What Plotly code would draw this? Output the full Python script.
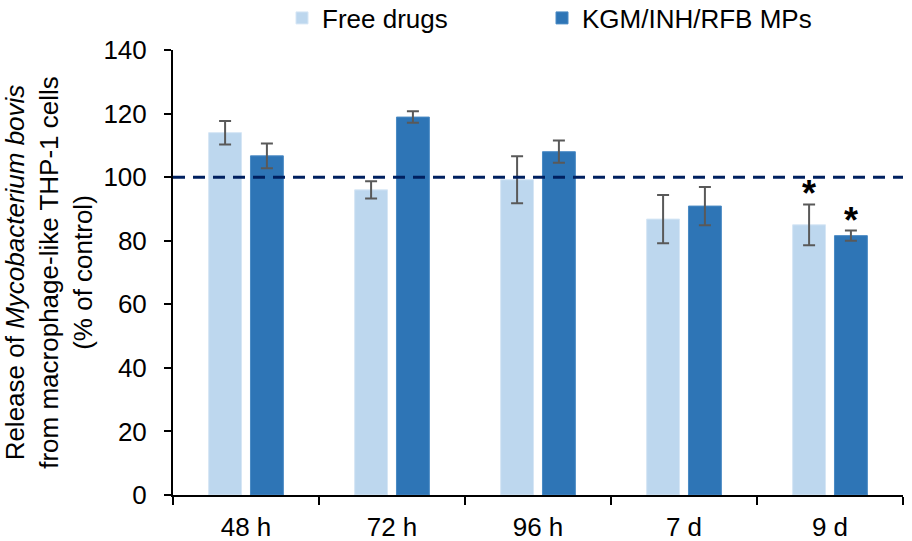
import plotly.graph_objects as go

categories = ["48 h", "72 h", "96 h", "7 d", "9 d"]
free_vals = [114.0, 96.0, 99.2, 86.8, 85.0]
free_err = [3.7, 2.7, 7.4, 7.6, 6.4]
mp_vals = [106.7, 118.9, 108.0, 90.9, 81.6]
mp_err = [3.9, 1.8, 3.5, 6.0, 1.6]
control_level = 100
sig_free = ["", "", "", "", "*"]
sig_mp = ["", "", "", "", "*"]
yticks = [0, 20, 40, 60, 80, 100, 120, 140]

FONT = "Liberation Sans, Arial, sans-serif"
FS = 26

fig = go.Figure()
fig.add_trace(go.Bar(
    name="Free drugs", x=categories, y=free_vals, legend="legend",
    marker=dict(color="#BDD7EE", line=dict(color="#D6E6F5", width=1)),
    error_y=dict(type="data", array=free_err, visible=True,
                 color="#595959", thickness=2, width=6),
))
fig.add_trace(go.Bar(
    name="KGM/INH/RFB MPs", x=categories, y=mp_vals, legend="legend2",
    marker=dict(color="#2E75B6", line=dict(color="#4A8AC4", width=1)),
    error_y=dict(type="data", array=mp_err, visible=True,
                 color="#595959", thickness=2, width=6),
))

fig.add_shape(type="line", xref="paper", yref="y", x0=0, x1=1,
              y0=control_level, y1=control_level,
              line=dict(color="#002060", width=3, dash="12px,8px"))

for i, c in enumerate(categories):
    if sig_free[i]:
        fig.add_annotation(x=c, y=free_vals[i] + free_err[i], text="<b>*</b>",
                           showarrow=False, xshift=-21, yanchor="bottom", yshift=-12,
                           font=dict(family=FONT, size=36, color="black"))
    if sig_mp[i]:
        fig.add_annotation(x=c, y=mp_vals[i] + mp_err[i], text="<b>*</b>",
                           showarrow=False, xshift=21, yanchor="bottom", yshift=-12,
                           font=dict(family=FONT, size=36, color="black"))

legend_common = dict(orientation="h", yref="container", xref="container",
                     yanchor="middle", y=1 - 18 / 541, xanchor="left",
                     font=dict(family=FONT, size=FS, color="black"),
                     bgcolor="rgba(0,0,0,0)", itemwidth=30)

fig.update_layout(
    width=912, height=541,
    margin=dict(l=173, r=9, t=50, b=46, autoexpand=False),
    paper_bgcolor="white", plot_bgcolor="white",
    font=dict(family=FONT, size=FS, color="black"),
    barmode="group", bargap=0.427, bargroupgap=0.214,
    showlegend=True,
    legend=dict(x=282 / 912, **legend_common),
    legend2=dict(x=542 / 912, **legend_common),
    xaxis=dict(showline=True, linecolor="black", linewidth=2, automargin=False,
               ticks="outside", ticklen=8, tickwidth=2, tickcolor="black",
               tickson="boundaries", tickfont=dict(size=FS), ticklabelstandoff=8),
    yaxis=dict(range=[0, 140], tickvals=yticks, showline=True, linecolor="black",
               linewidth=2, ticks="outside", ticklen=7, tickwidth=2, tickcolor="black",
               showgrid=False, zeroline=False, tickfont=dict(size=FS), automargin=False,
               ticklabelstandoff=12,
               title=dict(text="Release of <i>Mycobacterium bovis</i><br>from macrophage-like THP-1 cells<br>(% of control)",
                          font=dict(size=26), standoff=8)),
)

fig.write_html("out.html")
